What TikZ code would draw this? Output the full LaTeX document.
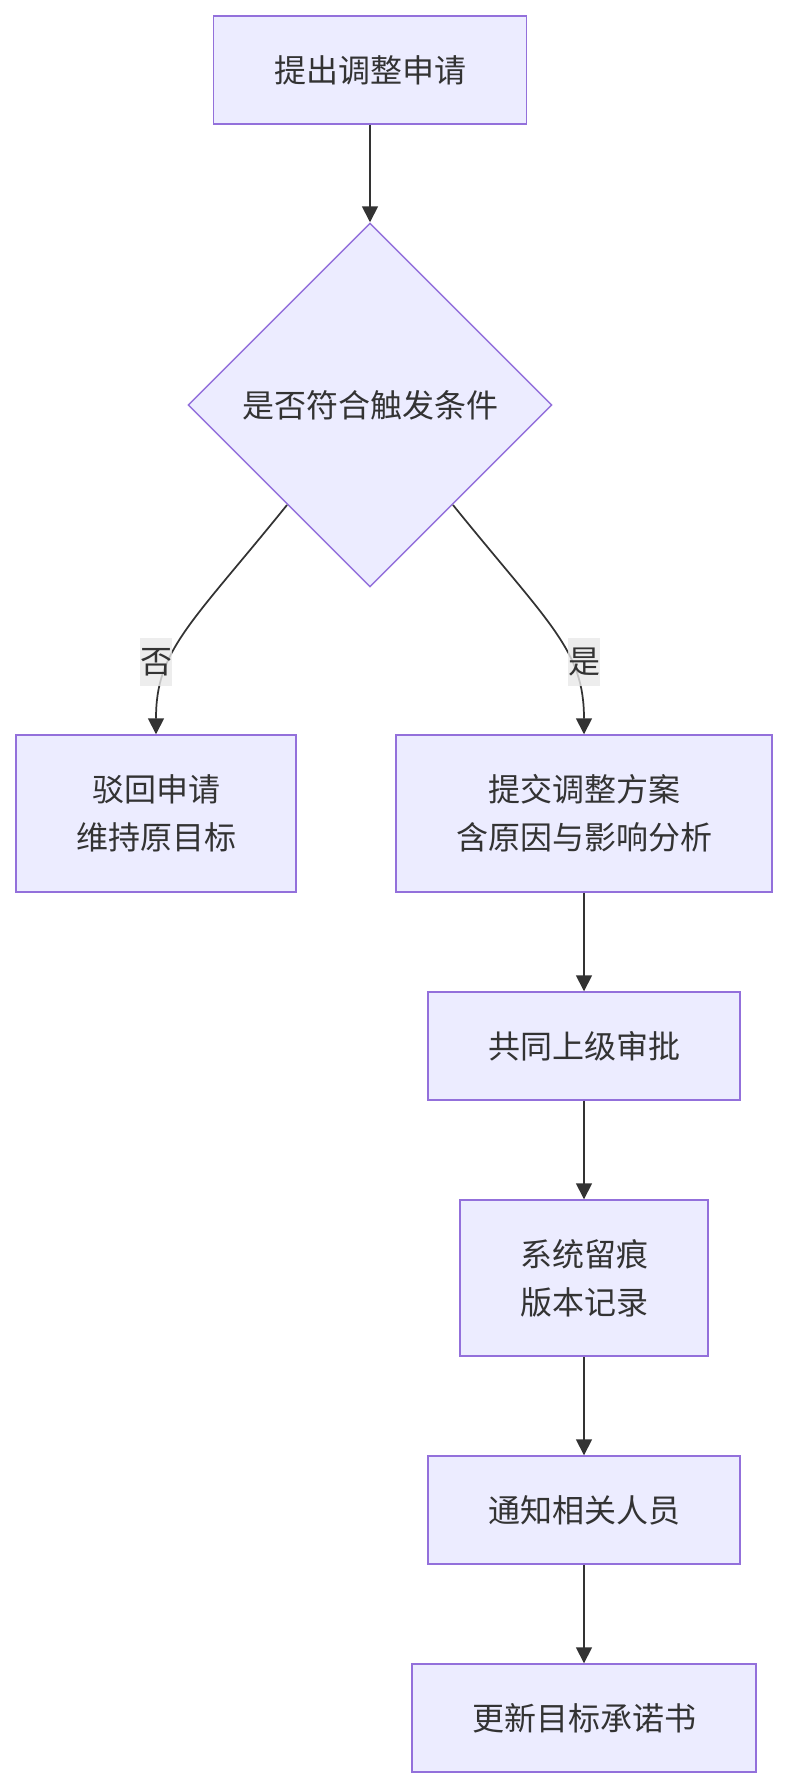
\documentclass[tikz,border=0pt]{standalone}
\usepackage{fontspec}
\newfontfamily\cjk{Noto Sans CJK SC}
\usetikzlibrary{shapes.geometric,arrows.meta,calc}
\definecolor{nodefill}{HTML}{ECECFF}
\definecolor{nodeline}{HTML}{9370DB}
\definecolor{ink}{HTML}{333333}
\definecolor{lblbg}{HTML}{E8E8E8}
\begin{document}
\begin{tikzpicture}[x=0.75pt,y=-0.75pt,
  txt/.style={text=ink,font=\cjk\fontsize{24pt}{36pt}\selectfont},
  box/.style={txt,draw=nodeline,fill=nodefill,line width=1.1pt,inner sep=0pt,align=center},
  decide/.style={box,shape=diamond,aspect=1,minimum width=273pt,minimum height=273pt},
  lbl/.style={txt,fill=lblbg,fill opacity=0.8,text opacity=1,inner sep=0pt,minimum width=24pt,minimum height=36pt},
  flow/.style={draw=ink,line width=1.3pt,-{Triangle[length=12pt,width=12pt]}}]
\useasboundingbox (0,0) rectangle (788,1788);
\node[box,minimum width=234.75pt,minimum height=81pt] (b1) at (370,70) {提出调整申请};
\node[decide] (d) at (370,405) {是否符合触发条件};
\node[box,minimum width=210pt,minimum height=117.75pt] (no) at (156,813.5) {驳回申请\\维持原目标};
\node[box,minimum width=282pt,minimum height=117.75pt] (yes) at (584,813.5) {提交调整方案\\含原因与影响分析};
\node[box,minimum width=234pt,minimum height=81pt] (b4) at (584,1046) {共同上级审批};
\node[box,minimum width=186pt,minimum height=117pt] (b5) at (584,1278) {系统留痕\\版本记录};
\node[box,minimum width=234pt,minimum height=81pt] (b6) at (584,1510) {通知相关人员};
\node[box,minimum width=258pt,minimum height=81pt] (b7) at (584,1718) {更新目标承诺书};
\coordinate (ds) at (287,505);
\coordinate (de) at (453,505);
\draw[flow] (b1.south) -- (d.north);
\draw[flow] (ds) .. controls (190,625) and (156,650) .. (no.north);
\draw[flow] (de) .. controls (550,625) and (584,650) .. (yes.north);
\node[lbl] (lno) at (156,662) {否};
\node[lbl] (lyes) at (584,662) {是};
\draw[flow] (yes.south) -- (b4.north);
\draw[flow] (b4.south) -- (b5.north);
\draw[flow] (b5.south) -- (b6.north);
\draw[flow] (b6.south) -- (b7.north);
\end{tikzpicture}
\end{document}
